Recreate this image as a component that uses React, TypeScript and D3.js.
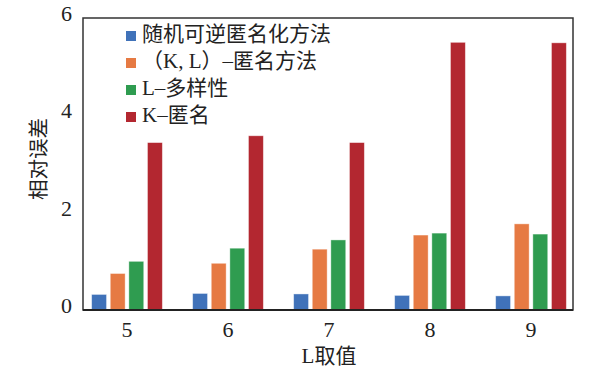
import React from "react";
import * as d3 from "d3";

const categories = ["5", "6", "7", "8", "9"];
const seriesNames = ["随机可逆匿名化方法", "（K, L）–匿名方法", "L–多样性", "K–匿名"];
const seriesColors = ["#4072b9", "#e67a43", "#2f9c50", "#b32730"];
const reversible = [0.32, 0.34, 0.33, 0.3, 0.29];
const klAnon = [0.75, 0.96, 1.25, 1.54, 1.77];
const lDiversity = [1.0, 1.27, 1.44, 1.58, 1.56];
const kAnon = [3.44, 3.58, 3.44, 5.5, 5.49];
const yTicks = [0, 2, 4, 6];

const seriesValues = [reversible, klAnon, lDiversity, kAnon];

const W = 599;
const H = 376;
const frame = { left: 83, right: 573, top: 18, bottom: 310 };
const FONT = "'Liberation Serif', 'Noto Sans CJK SC', serif";

export default function App() {
  const y = d3.scaleLinear().domain([0, 6]).range([frame.bottom, frame.top]);
  const x0 = d3.scaleBand<string>().domain(categories).range([76.5, 581.5]).paddingInner(0.3).paddingOuter(0.15);
  const x1 = d3
    .scaleBand<number>()
    .domain(d3.range(seriesNames.length))
    .range([0, x0.bandwidth()])
    .paddingInner(0.2);

  return (
    <svg width={W} height={H} style={{ position: "absolute", left: 0, top: 0, background: "#fff" }}>
      <rect
        x={frame.left}
        y={frame.top}
        width={frame.right - frame.left}
        height={frame.bottom - frame.top}
        fill="none"
        stroke="#333"
        strokeWidth={1.5}
      />
      {categories.map((c, i) => (
        <g key={c} transform={`translate(${x0(c)},0)`}>
          {seriesValues.map((vals, s) => (
            <rect
              key={s}
              x={x1(s)}
              y={y(vals[i])}
              width={x1.bandwidth()}
              height={y(0) - y(vals[i])}
              fill={seriesColors[s]}
              stroke="rgba(255,255,255,0.5)"
              strokeWidth={0.8}
            />
          ))}
        </g>
      ))}
      <line x1={frame.left} x2={frame.right} y1={frame.bottom} y2={frame.bottom} stroke="#222" strokeWidth={1.8} />
      {yTicks.map((t) => (
        <text
          key={t}
          x={72}
          y={y(t) - 2}
          textAnchor="end"
          dominantBaseline="middle"
          fontFamily={FONT}
          fontSize={22}
          fill="#222"
        >
          {t}
        </text>
      ))}
      {categories.map((c) => (
        <text
          key={c}
          x={(x0(c) ?? 0) + x0.bandwidth() / 2}
          y={332}
          textAnchor="middle"
          dominantBaseline="middle"
          fontFamily={FONT}
          fontSize={22}
          fill="#222"
        >
          {c}
        </text>
      ))}
      <text
        transform={`translate(41,159) rotate(-90)`}
        textAnchor="middle"
        dominantBaseline="middle"
        fontFamily={FONT}
        fontSize={20.5}
        fill="#222"
      >
        相对误差
      </text>
      <text
        x={329}
        y={358}
        textAnchor="middle"
        dominantBaseline="middle"
        fontFamily={FONT}
        fontSize={21}
        fill="#222"
      >
        L取值
      </text>
      {seriesNames.map((name, s) => (
        <g key={name} transform={`translate(126,${36 + s * 27})`}>
          <rect x={0} y={-5} width={10} height={10} fill={seriesColors[s]} />
          <text x={16} y={0} dominantBaseline="middle" fontFamily={FONT} fontSize={21} fill="#222">
            {name}
          </text>
        </g>
      ))}
    </svg>
  );
}
